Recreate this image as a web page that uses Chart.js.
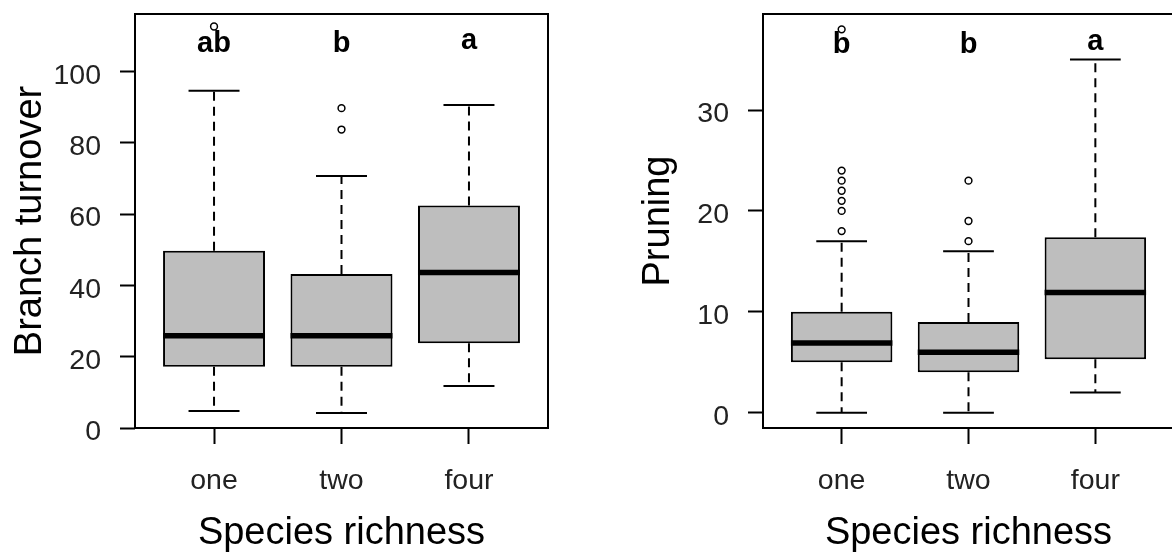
<!DOCTYPE html>
<html>
<head>
<meta charset="utf-8">
<script src="https://cdn.jsdelivr.net/npm/chart.js@4.4.1/dist/chart.umd.min.js"></script>
<style>
  html, body { margin: 0; padding: 0; background: #fff; overflow: hidden; width: 1172px; height: 554px; }
  canvas { position: absolute; top: 0; }
  #turnover { left: 0; }
  #pruning { left: 628px; }
</style>
</head>
<body>
<canvas id="turnover" width="560" height="554"></canvas>
<canvas id="pruning" width="560" height="554"></canvas>
<script>
const categories = ['one', 'two', 'four'];

// Branch turnover (left panel)
const turnoverLow = [4.8, 4.2, 11.8];
const turnoverQ1 = [17.2, 17.2, 23.8];
const turnoverMedian = [25.9, 25.9, 43.6];
const turnoverQ3 = [49.7, 43.2, 62.4];
const turnoverHigh = [94.6, 70.7, 90.6];
const turnoverOutliers = [[112.6], [83.7, 89.7], []];
const turnoverLetters = ['ab', 'b', 'a'];
const turnoverTicks = [0, 20, 40, 60, 80, 100];

// Pruning (right panel)
const pruningLow = [0, 0, 2];
const pruningQ1 = [5, 4, 5.3];
const pruningMedian = [6.9, 6, 11.9];
const pruningQ3 = [10, 9, 17.4];
const pruningHigh = [17, 16, 35];
const pruningOutliers = [[18, 20, 21, 22, 23, 24, 38], [17, 19, 23], []];
const pruningLetters = ['b', 'b', 'a'];
const pruningTicks = [0, 10, 20, 30];

const FONT = "'Liberation Sans', Arial, sans-serif";

// frame around the plot area + significance letters
const decor = {
  id: 'decor',
  afterDatasetsDraw(chart, args, opts) {
    const { ctx, chartArea: a, scales: { x, y } } = chart;
    ctx.save();
    ctx.lineWidth = 2;
    ctx.strokeStyle = '#000';
    ctx.strokeRect(a.left, a.top, a.right - a.left, a.bottom - a.top);
    ctx.font = `bold 29px ${FONT}`;
    ctx.fillStyle = '#000';
    ctx.textAlign = 'center';
    ctx.textBaseline = 'alphabetic';
    const yc = y.getPixelForValue(opts.letterY);
    opts.letters.forEach((t, i) => {
      const m = ctx.measureText(t);
      const base = yc + (m.actualBoundingBoxAscent - m.actualBoundingBoxDescent) / 2;
      ctx.fillText(t, x.getPixelForValue(i + 1), base);
    });
    ctx.restore();
  }
};

function makeBoxChart(id, cfg) {
  const xs = categories.map((_, i) => i + 1);
  const boxes = xs.map((x, i) => ({ x, y: [cfg.q1[i], cfg.q3[i]] }));
  const medians = xs.map((x, i) => ({ x, y: cfg.median[i] }));
  const caps = xs.flatMap((x, i) => [{ x, y: cfg.low[i] }, { x, y: cfg.high[i] }]);
  const whiskers = xs.flatMap((x, i) => [
    { x, y: cfg.q3[i] }, { x, y: cfg.high[i] }, { x, y: null },
    { x, y: cfg.q1[i] }, { x, y: cfg.low[i] }, { x, y: null }
  ]);
  const outliers = xs.flatMap((x, i) => cfg.outliers[i].map(v => ({ x, y: v })));

  // pixel distance between two neighbouring groups
  const step = (c) => {
    const s = c.chart.scales.x;
    return s.getPixelForValue(2) - s.getPixelForValue(1);
  };

  return new Chart(document.getElementById(id), {
    type: 'bar',
    data: {
      datasets: [
        {
          type: 'line', data: medians, showLine: false, order: 0,
          pointStyle: 'line', pointRadius: (c) => step(c) * 0.4,
          pointBorderWidth: 5.5, borderColor: '#000'
        },
        {
          type: 'line', data: outliers, showLine: false, order: 1,
          pointStyle: 'circle', pointRadius: 3.4, pointBorderWidth: 1.5,
          borderColor: '#000', backgroundColor: 'rgba(0,0,0,0)'
        },
        {
          type: 'bar', data: boxes, order: 2,
          backgroundColor: '#bebebe', borderColor: '#000', borderWidth: 2,
          borderSkipped: false, barPercentage: 0.8, categoryPercentage: 1
        },
        {
          type: 'line', data: caps, showLine: false, order: 3,
          pointStyle: 'line', pointRadius: (c) => step(c) * 0.2,
          pointBorderWidth: 2, borderColor: '#000'
        },
        {
          type: 'line', data: whiskers, order: 4, spanGaps: false,
          borderColor: '#000', borderWidth: 2, borderDash: [9, 6], pointRadius: 0
        }
      ]
    },
    options: {
      responsive: false,
      animation: false,
      events: [],
      layout: { padding: { top: 14, right: cfg.padRight, left: 0, bottom: 0 } },
      plugins: {
        legend: { display: false },
        tooltip: { enabled: false },
        decor: { letters: cfg.letters, letterY: cfg.letterY }
      },
      scales: {
        x: {
          type: 'linear', min: 0.38, max: 3.62, offset: false,
          afterBuildTicks: (s) => { s.ticks = xs.map(v => ({ value: v })); },
          afterFit: (s) => { s.height = 126; s.paddingLeft = 0; s.paddingRight = 0; },
          grid: { offset: false, drawOnChartArea: false, drawTicks: true, tickLength: 16, tickWidth: 2, tickColor: '#000' },
          border: { display: false },
          ticks: {
            autoSkip: false, maxRotation: 0, padding: 20, color: '#222',
            font: { family: FONT, size: 28.5 },
            callback: (v) => categories[v - 1]
          },
          title: {
            display: true, text: 'Species richness', color: '#000',
            font: { family: FONT, size: 38, lineHeight: 1 },
            padding: { top: 0, bottom: 1.5 }
          }
        },
        y: {
          type: 'linear', min: cfg.yMin, max: cfg.yMax,
          afterBuildTicks: (s) => { s.ticks = cfg.ticks.map(v => ({ value: v })); },
          afterFit: (s) => { s.width = 135; s.paddingTop = 0; s.paddingBottom = 0; },
          grid: { drawOnChartArea: false, drawTicks: true, tickLength: 15, tickWidth: 2, tickColor: '#000' },
          border: { display: false },
          ticks: {
            padding: 19, labelOffset: 4.5, color: '#222',
            font: { family: FONT, size: 28.5 }
          },
          title: {
            display: true, text: cfg.title, color: '#000',
            font: { family: FONT, size: 38, lineHeight: 1 },
            padding: { top: 11.5, bottom: 0 }
          }
        }
      }
    },
    plugins: [decor]
  });
}

makeBoxChart('turnover', {
  title: 'Branch turnover',
  low: turnoverLow, q1: turnoverQ1, median: turnoverMedian, q3: turnoverQ3, high: turnoverHigh,
  outliers: turnoverOutliers, letters: turnoverLetters, ticks: turnoverTicks,
  yMin: 0, yMax: 116.1, letterY: 108.4, padRight: 12
});

makeBoxChart('pruning', {
  title: 'Pruning',
  low: pruningLow, q1: pruningQ1, median: pruningMedian, q3: pruningQ3, high: pruningHigh,
  outliers: pruningOutliers, letters: pruningLetters, ticks: pruningTicks,
  yMin: -1.52, yMax: 39.52, letterY: 36.7, padRight: 14
});
</script>
</body>
</html>
